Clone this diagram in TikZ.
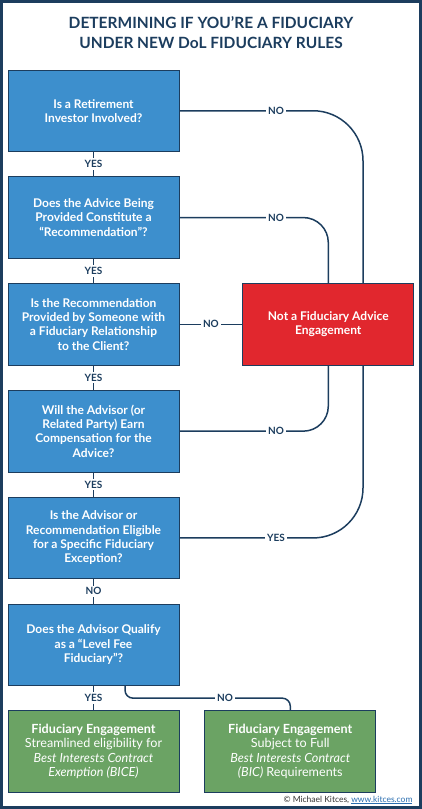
\documentclass[tikz,border=0pt]{standalone}
\usepackage{fontspec}
\setmainfont{Lato}
\usepackage{xcolor}
\usetikzlibrary{positioning, calc, backgrounds}
\definecolor{navy}{HTML}{1C3D5E}
\definecolor{qblue}{HTML}{3D8FCD}
\definecolor{stopred}{HTML}{E1272E}
\definecolor{gogreen}{HTML}{6BA364}
\definecolor{credit}{HTML}{333333}
\definecolor{linkblue}{HTML}{2A6EB0}

\begin{document}
\begin{tikzpicture}[
    x=1pt, y=-1pt,
    node distance=24.5pt and 63pt,
    question/.style={rectangle, draw=navy, line width=0.8pt, fill=qblue, text=white, minimum width=171pt, minimum height=81.5pt, align=center, inner sep=0pt, font=\fontsize{12}{14.3}\selectfont\bfseries},
    outcome/.style={question, fill=stopred},
    engage/.style={question, fill=gogreen, font=\fontsize{12.6}{14.5}\selectfont},
    link/.style={draw=navy, line width=1.5pt},
    answer/.style={fill=white, text=navy, inner sep=2pt, font=\fontsize{10}{12}\selectfont\bfseries}
]
\useasboundingbox (0,0) rectangle (422,809);
\draw[navy, line width=3pt] (1.5,1.5) rectangle (420.5,807.5);

\node[text=navy, align=center, font=\fontsize{15.5}{20}\selectfont\bfseries] (title) at (211,33) {DETERMINING IF YOU'RE A FIDUCIARY\\UNDER NEW DoL FIDUCIARY RULES};

\node[question] (q1) at (93.5,110.75) {Is a Retirement\\Investor Involved?};
\node[question, below=of q1] (q2) {Does the Advice Being\\Provided Constitute a\\“Recommendation”?};
\node[question, below=of q2] (q3) {Is the Recommendation\\Provided by Someone with\\a Fiduciary Relationship\\to the Client?};
\node[question, below=of q3] (q4) {Will the Advisor (or\\Related Party) Earn\\Compensation for the\\Advice?};
\node[question, below=of q4] (q5) {Is the Advisor or\\Recommendation Eligible\\for a Specific Fiduciary\\Exception?};
\node[question, below=of q5] (q6) {Does the Advisor Qualify\\as a “Level Fee\\Fiduciary”?};

\node[outcome, right=of q3] (stop) {Not a Fiduciary Advice\\Engagement};
\node[engage, below=of q6] (fid1) {\textbf{Fiduciary Engagement}\\Streamlined eligibility for\\\textit{Best Interests Contract}\\\textit{Exemption (BICE)}};
\node[engage, right=25pt of fid1] (fid2) {\textbf{Fiduciary Engagement}\\Subject to Full\\\textit{Best Interests Contract}\\\textit{(BIC)} Requirements};

\node[anchor=east, text=credit, font=\fontsize{8.5}{10}\selectfont] (credit) at (416,800) {© Michael Kitces, \textcolor{linkblue}{\underline{www.kitces.com}}};

\coordinate (rail) at (363,0);
\coordinate (nox) at (276,0);
\coordinate (splitx) at (225,0);
\coordinate (split) at ($(q6.south)!0.5!(fid1.north)$);

\begin{scope}[on background layer]
\draw[link] (q1) -- node[answer] {YES} (q2);
\draw[link] (q2) -- node[answer] {YES} (q3);
\draw[link] (q3) -- node[answer] {YES} (q4);
\draw[link] (q4) -- node[answer] {YES} (q5);
\draw[link] (q5) -- node[answer] {NO} (q6);
\draw[link] (q6) -- node[answer] {YES} (fid1);
\draw[link] (q3) -- node[answer] {NO} (stop);
\draw[link, rounded corners=50pt] (q1.east) -- (q1.east -| rail) -- (q5.east -| rail) -- (q5.east);
\draw[link, rounded corners=25pt] (q2.east) -| (stop.north);
\draw[link, rounded corners=25pt] (stop.south) |- (q4.east);
\draw[link, rounded corners=8pt] ([xshift=31.5pt]q6.south) |- (split -| fid2.north) -- (fid2.north);
\node[answer] at (q1.east -| nox) {NO};
\node[answer] at (q2.east -| nox) {NO};
\node[answer] at (q4.east -| nox) {NO};
\node[answer] at (q5.east -| nox) {YES};
\node[answer] at (split -| splitx) {NO};
\end{scope}

\end{tikzpicture}
\end{document}
